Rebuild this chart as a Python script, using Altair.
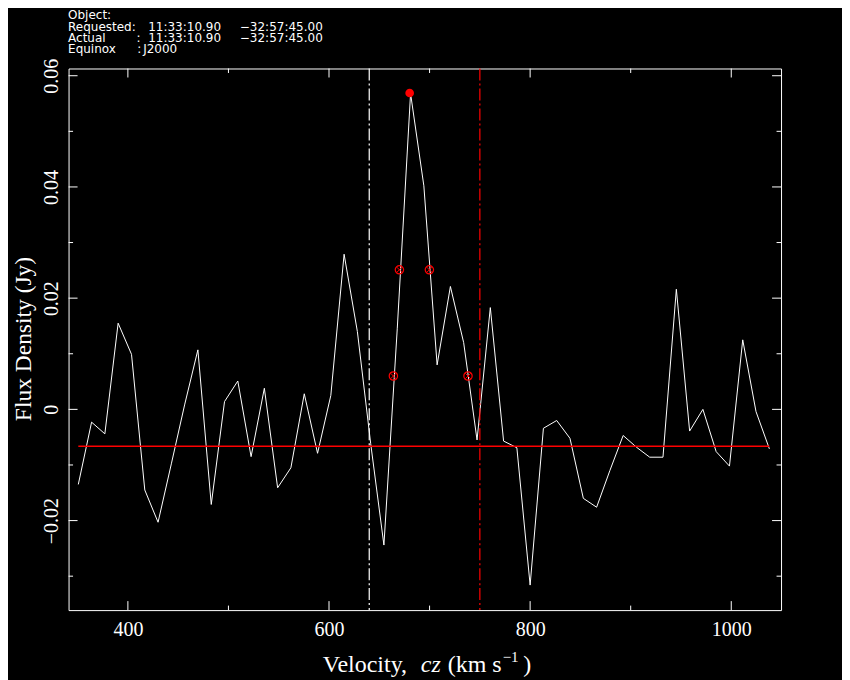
import altair as alt
import pandas as pd

# ---------------- data ----------------
velocity = [350.7, 363.9, 377.1, 390.3, 403.6, 416.8, 430.0, 443.2, 456.4, 469.6,
            482.9, 496.1, 509.3, 522.5, 535.7, 548.9, 562.1, 575.4, 588.6, 601.8,
            615.0, 628.2, 641.4, 654.6, 667.9, 681.1, 694.3, 707.5, 720.7, 733.9,
            747.2, 760.4, 773.6, 786.8, 800.0, 813.2, 826.4, 839.6, 852.9, 866.1,
            879.3, 892.5, 905.7, 918.9, 932.1, 945.4, 958.6, 971.8, 985.0, 998.2,
            1011.4, 1024.6, 1037.9]
flux = [-0.0135, -0.0023, -0.0044, 0.0155, 0.0099, -0.0145, -0.0203, -0.0098, 0.0008, 0.0107,
        -0.0171, 0.0014, 0.0051, -0.0085, 0.0038, -0.0141, -0.0105, 0.0028, -0.0079, 0.0025,
        0.0279, 0.0140, -0.0061, -0.0244, 0.0146, 0.0568, 0.0402, 0.0080, 0.0221, 0.0120,
        -0.0055, 0.0183, -0.0057, -0.0069, -0.0316, -0.0034, -0.0020, -0.0052, -0.0160, -0.0176,
        -0.0110, -0.0047, -0.0068, -0.0086, -0.0086, 0.0216, -0.0039, 0.0000, -0.0076, -0.0102,
        0.0125, -0.0004, -0.0071]

baseline_flux = -0.00665
baseline_span = [350.7, 1037.9]
window_vel = [640, 750]
window_colors = ["white", "red"]
peak_vel = [680.2]
peak_flux = [0.0569]
width_vel = [664.0, 670.0, 699.8, 738.2]
width_flux = [0.0060, 0.0251, 0.0251, 0.0060]

x_major = [400, 600, 800, 1000]
x_minor = [500, 700, 900]
y_major = [-0.02, 0.0, 0.02, 0.04, 0.06]
y_minor = [-0.03, -0.01, 0.01, 0.03, 0.05]

x_domain = [341, 1049.5]
y_domain = [-0.0361, 0.0613]

W, H = 713, 542
SERIF = "Liberation Serif"
SANS = "DejaVu Sans"

xscale = alt.Scale(domain=x_domain, nice=False, zero=False)
yscale = alt.Scale(domain=y_domain, nice=False, zero=False)

x_axis = alt.Axis(values=x_major, format="d", ticks=False, tickSize=0, domain=False,
                  grid=False, labelColor="white", labelFont=SERIF, labelFontSize=20,
                  labelPadding=9, labelBaseline="top", title=None)
y_axis = alt.Axis(values=y_major, ticks=False, tickSize=0, domain=False, grid=False,
                  labelColor="white", labelFont=SERIF, labelFontSize=20,
                  labelAngle=270, labelAlign="center", labelBaseline="alphabetic",
                  labelPadding=11.5, title=None,
                  labelExpr="datum.value == 0 ? '0' : format(datum.value, '.2f')")

X = alt.X("v:Q", scale=xscale, axis=x_axis, title=None)
Y = alt.Y("f:Q", scale=yscale, axis=y_axis, title=None)

spec_df = pd.DataFrame({"v": velocity, "f": flux})
line = alt.Chart(spec_df).mark_line(color="white", strokeWidth=1).encode(x=X, y=Y)

base_df = pd.DataFrame({"v": [baseline_span[0]], "v2": [baseline_span[1]], "f": [baseline_flux]})
baseline = alt.Chart(base_df).mark_rule(color="red", strokeWidth=1.5).encode(
    x=X, x2="v2:Q", y=Y)

win_df = pd.DataFrame({"v": window_vel, "c": window_colors})
windows = alt.Chart(win_df).mark_rule(strokeWidth=1.2, strokeDash=[12, 3, 2, 3]).encode(
    x=X, y=alt.value(0), y2=alt.value(H), color=alt.Color("c:N", scale=None))

peak = alt.Chart(pd.DataFrame({"v": peak_vel, "f": peak_flux})).mark_point(
    shape="circle", filled=True, color="red", size=75, opacity=1).encode(x=X, y=Y)

wdf = pd.DataFrame({"v": width_vel, "f": width_flux})
wcirc = alt.Chart(wdf).mark_point(shape="circle", filled=False, color="red", size=70,
                                  strokeWidth=1.2, opacity=1).encode(x=X, y=Y)
wcross = alt.Chart(wdf).mark_point(shape="M-1,-1L1,1M1,-1L-1,1", filled=False, color="red",
                                   size=28, strokeWidth=1, opacity=1).encode(x=X, y=Y)


def xticks(vals, length):
    d = pd.DataFrame({"v": vals})
    bottom = alt.Chart(d).mark_rule(color="white", strokeWidth=1).encode(
        x=X, y=alt.value(H), y2=alt.value(H - length))
    top = alt.Chart(d).mark_rule(color="white", strokeWidth=1).encode(
        x=X, y=alt.value(0), y2=alt.value(length))
    return [bottom, top]


def yticks(vals, length):
    d = pd.DataFrame({"f": vals})
    left = alt.Chart(d).mark_rule(color="white", strokeWidth=1).encode(
        y=Y, x=alt.value(0), x2=alt.value(length))
    right = alt.Chart(d).mark_rule(color="white", strokeWidth=1).encode(
        y=Y, x=alt.value(W), x2=alt.value(W - length))
    return [left, right]


tick_layers = xticks(x_major, 9) + xticks(x_minor, 4.5) + yticks(y_major, 9) + yticks(y_minor, 4.5)


def label(text, x, y, size=12, font=SANS, style="normal", angle=0, align="left",
          baseline="alphabetic"):
    kw = dict(color="white", font=font, fontSize=size, fontStyle=style, align=align,
              baseline=baseline)
    if angle:
        kw["angle"] = angle
    return alt.Chart(pd.DataFrame({"t": [text]})).mark_text(**kw).encode(
        text="t:N", x=alt.value(x), y=alt.value(y))


r1, r2, r3, r4 = -49.3, -38.0, -26.7, -15.4
texts = [
    label("Object:", -0.5, r1),
    label("Requested:", -0.5, r2),
    label("11:33:10.90", 79.7, r2),
    label("\u221232:57:45.00", 171.4, r2),
    label("Actual", -0.5, r3),
    label(":", 68.1, r3),
    label("11:33:10.90", 79.7, r3),
    label("\u221232:57:45.00", 171.4, r3),
    label("Equinox", -0.5, r4),
    label(":", 68.7, r4),
    label("J2000", 74.7, r4),
    # x-axis title pieces
    label("Velocity,", 254.4, 604.2, size=24, font=SERIF),
    label("cz", 352.5, 604.2, size=24, font=SERIF, style="italic"),
    label("(km s", 379.4, 604.2, size=24, font=SERIF),
    label("\u22121", 434.4, 593.5, size=15, font=SERIF),
    label(")", 454.9, 604.2, size=24, font=SERIF),
    # y-axis title
    label("Flux Density (Jy)", -44.6, 270.7, size=23.5, font=SERIF, angle=270,
          align="center", baseline="middle"),
]

chart = alt.layer(line, baseline, windows, *tick_layers, peak, wcirc, wcross, *texts).properties(
    width=W, height=H,
    autosize=alt.AutoSizeParams(type="none"),
    padding={"left": 60.6, "top": 60.3, "right": 61, "bottom": 70},
    background="black",
).configure_view(stroke="white", strokeWidth=1, fill="black")

chart.save("out.html", embed_options={"renderer": "svg", "actions": False})
